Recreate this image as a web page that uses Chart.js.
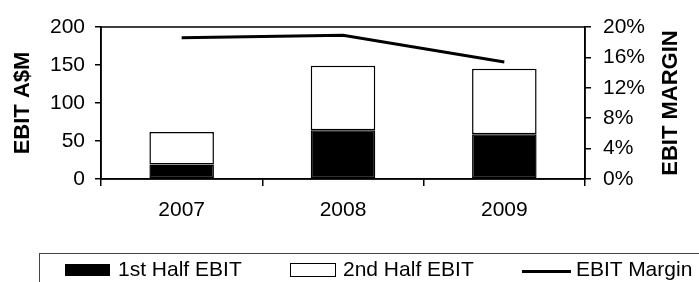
<!DOCTYPE html>
<html>
<head>
<meta charset="utf-8">
<script src="https://cdn.jsdelivr.net/npm/chart.js@4.4.1/dist/chart.umd.min.js"></script>
<style>
  html, body { margin: 0; padding: 0; background: #fff; overflow: hidden; }
  #wrap { position: relative; width: 699px; height: 282px; }
  #legend {
    position: absolute; left: 39px; top: 253px; width: 700px; height: 40px;
    border: 1px solid #444;
    font-family: "Liberation Sans", Arial, sans-serif; font-size: 21px; color: #000;
  }
  #legend span { position: absolute; top: 4px; line-height: 21px; white-space: nowrap; }
  #legend .sw { position: absolute; box-sizing: border-box; }
</style>
</head>
<body>
<div id="wrap">
  <canvas id="ebitChart" width="699" height="282"></canvas>
  <div id="legend"></div>
</div>
<script>
// data
const years = ['2007', '2008', '2009'];
const firstHalf = [19, 64, 59];
const secondHalf = [43, 85, 86];
const marginPct = [18.6, 18.9, 15.4];
const seriesNames = ['1st Half EBIT', '2nd Half EBIT', 'EBIT Margin'];

const FONT = '"Liberation Sans", Arial, sans-serif';

// legend under the chart, built from the series names
const legend = document.getElementById('legend');
legend.innerHTML = `
  <div class="sw" style="left:25px;top:10px;width:45px;height:12px;background:#000"></div>
  <span style="left:78px">${seriesNames[0]}</span>
  <div class="sw" style="left:250px;top:9px;width:46px;height:14px;background:#fff;border:1.5px solid #000"></div>
  <span style="left:303px">${seriesNames[1]}</span>
  <div class="sw" style="left:482px;top:16px;width:49px;height:3px;background:#000"></div>
  <span style="left:536px">${seriesNames[2]}</span>
`;

// box round the plot area plus the two axis titles
const frameAndTitles = {
  id: 'frameAndTitles',
  afterDraw(chart) {
    const ctx = chart.ctx;
    const a = chart.chartArea;
    ctx.save();
    ctx.strokeStyle = '#000';
    ctx.lineWidth = 1.5;
    ctx.strokeRect(a.left, a.top, a.right - a.left, a.bottom - a.top);

    ctx.fillStyle = '#000';
    ctx.font = 'bold 22px ' + FONT;
    ctx.textAlign = 'center';
    ctx.textBaseline = 'middle';
    const midY = (a.top + a.bottom) / 2;

    ctx.save();
    ctx.translate(22.5, midY);
    ctx.rotate(-Math.PI / 2);
    ctx.fillText('EBIT A$M', 0, 0);
    ctx.restore();

    ctx.save();
    ctx.translate(671, midY);
    ctx.rotate(-Math.PI / 2);
    ctx.fillText('EBIT MARGIN', 0, 0);
    ctx.restore();

    ctx.restore();
  }
};

const tickFont = { family: FONT, size: 21 };

new Chart(document.getElementById('ebitChart'), {
  type: 'bar',
  data: {
    labels: years,
    datasets: [
      {
        label: seriesNames[0],
        data: firstHalf,
        backgroundColor: '#000',
        borderColor: '#000',
        borderWidth: 1.5,
        borderSkipped: false,
        yAxisID: 'y',
        order: 2
      },
      {
        label: seriesNames[1],
        data: secondHalf,
        backgroundColor: '#fff',
        borderColor: '#000',
        borderWidth: 1.5,
        borderSkipped: false,
        yAxisID: 'y',
        order: 2
      },
      {
        type: 'line',
        label: seriesNames[2],
        data: marginPct,
        borderColor: '#000',
        borderWidth: 3,
        pointRadius: 0,
        tension: 0,
        fill: false,
        yAxisID: 'y1',
        order: 1
      }
    ]
  },
  options: {
    responsive: false,
    animation: false,
    categoryPercentage: 1,
    barPercentage: 0.4,
    layout: { padding: { top: 27, bottom: 63, left: 0, right: 0 } },
    plugins: {
      legend: { display: false },
      tooltip: { enabled: false }
    },
    scales: {
      x: {
        stacked: true,
        offset: true,
        grid: { offset: true, drawOnChartArea: false, drawTicks: true, tickLength: 7, color: '#000', lineWidth: 1.5 },
        border: { display: true, color: '#000', width: 1.5 },
        ticks: { color: '#000', font: tickFont, padding: 12, maxRotation: 0 },
        afterFit: s => { s.height = 40; }
      },
      y: {
        stacked: true,
        position: 'left',
        min: 0,
        max: 200,
        grid: { drawOnChartArea: false, drawTicks: true, tickLength: 6, color: '#000', lineWidth: 1.5 },
        border: { display: true, color: '#000', width: 1.5 },
        ticks: { stepSize: 50, color: '#000', font: tickFont, padding: 10 },
        afterFit: s => { s.width = 101; }
      },
      y1: {
        position: 'right',
        min: 0,
        max: 20,
        grid: { drawOnChartArea: false, drawTicks: true, tickLength: 6, color: '#000', lineWidth: 1.5 },
        border: { display: true, color: '#000', width: 1.5 },
        ticks: { stepSize: 4, color: '#000', font: tickFont, padding: 12, callback: v => v + '%' },
        afterFit: s => { s.width = 114; }
      }
    }
  },
  plugins: [frameAndTitles]
});
</script>
</body>
</html>
